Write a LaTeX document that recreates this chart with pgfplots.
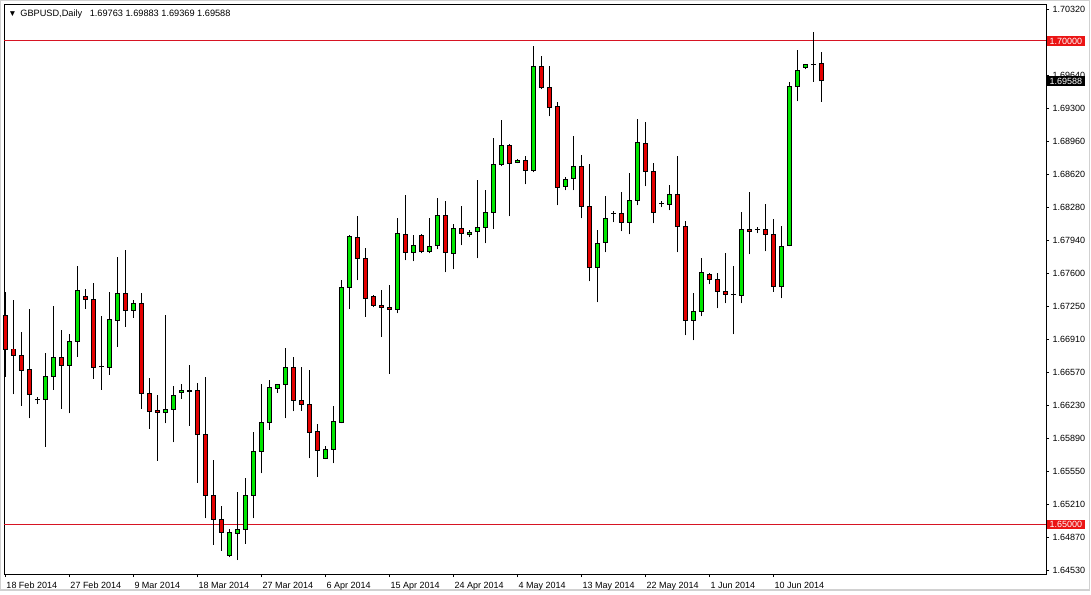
\documentclass[border=0pt]{standalone}
\usepackage{fontspec}
\setmainfont{Liberation Sans}
\usepackage{pgfplots}
\pgfplotsset{compat=1.18}
\usepackage{pgfplotstable}
\definecolor{bullgreen}{RGB}{0,230,0}
\definecolor{bearred}{RGB}{228,0,0}
\definecolor{lvlred}{RGB}{215,20,35}
\definecolor{boxred}{RGB}{235,20,20}

\pgfplotstableread{
i O H L C
0 1.67166 1.67407 1.66529 1.66812
1 1.66815 1.67322 1.66347 1.66750
2 1.66750 1.66991 1.66229 1.66595
3 1.66598 1.67225 1.66098 1.66347
4 1.66288 1.66322 1.66246 1.66290
5 1.66295 1.66770 1.65805 1.66533
6 1.66533 1.67259 1.66391 1.66729
7 1.66729 1.67011 1.66198 1.66646
8 1.66646 1.66967 1.66150 1.66895
9 1.66895 1.67676 1.66735 1.67422
10 1.67360 1.67432 1.67232 1.67329
11 1.67329 1.67494 1.66508 1.66626
12 1.66629 1.67156 1.66391 1.66632
13 1.66626 1.67401 1.66549 1.67122
14 1.67112 1.67769 1.66839 1.67391
15 1.67391 1.67838 1.67045 1.67215
16 1.67215 1.67322 1.67138 1.67290
17 1.67290 1.67394 1.66195 1.66357
18 1.66357 1.66512 1.65990 1.66171
19 1.66181 1.66339 1.65660 1.66161
20 1.66161 1.67166 1.66047 1.66192
21 1.66192 1.66432 1.65850 1.66336
22 1.66367 1.66453 1.66301 1.66388
23 1.66384 1.66650 1.66022 1.66380
24 1.66381 1.66460 1.65433 1.65933
25 1.65933 1.66525 1.65065 1.65302
26 1.65302 1.65667 1.64789 1.65054
27 1.65054 1.65192 1.64730 1.64920
28 1.64682 1.64951 1.64661 1.64913
29 1.64909 1.65340 1.64633 1.64951
30 1.64951 1.65481 1.64799 1.65305
31 1.65302 1.65954 1.65065 1.65757
32 1.65757 1.66453 1.65530 1.66057
33 1.66057 1.66494 1.65978 1.66419
34 1.66409 1.66455 1.66363 1.66450
35 1.66450 1.66822 1.66098 1.66626
36 1.66626 1.66732 1.66171 1.66285
37 1.66285 1.66629 1.66174 1.66243
38 1.66243 1.66595 1.65685 1.65954
39 1.65964 1.66036 1.65495 1.65768
40 1.65685 1.65812 1.65675 1.65778
41 1.65778 1.66223 1.65633 1.66067
42 1.66057 1.67525 1.66047 1.67453
43 1.67453 1.67990 1.67225 1.67980
44 1.67970 1.68193 1.67525 1.67753
45 1.67753 1.67856 1.67149 1.67339
46 1.67360 1.67370 1.67246 1.67267
47 1.67267 1.67422 1.66942 1.67246
48 1.67246 1.67474 1.66560 1.67225
49 1.67225 1.68166 1.67184 1.68011
50 1.68001 1.68404 1.67732 1.67815
51 1.67815 1.67990 1.67722 1.67887
52 1.67990 1.68001 1.67804 1.67821
53 1.67821 1.68166 1.67804 1.67877
54 1.67887 1.68373 1.67846 1.68197
55 1.68197 1.68342 1.67608 1.67815
56 1.67804 1.68104 1.67639 1.68063
57 1.68063 1.68290 1.67887 1.68011
58 1.68001 1.68042 1.67970 1.68022
59 1.68032 1.68559 1.67753 1.68073
60 1.68073 1.68459 1.67908 1.68228
61 1.68228 1.68993 1.68053 1.68725
62 1.68725 1.69179 1.68704 1.68921
63 1.68921 1.68931 1.68187 1.68735
64 1.68745 1.68776 1.68735 1.68766
65 1.68766 1.68807 1.68518 1.68662
66 1.68662 1.69948 1.68642 1.69738
67 1.69738 1.69841 1.69500 1.69521
68 1.69521 1.69738 1.69221 1.69314
69 1.69324 1.69366 1.68301 1.68487
70 1.68497 1.68590 1.68456 1.68569
71 1.68580 1.69014 1.68456 1.68704
72 1.68704 1.68818 1.68166 1.68290
73 1.68290 1.68725 1.67515 1.67660
74 1.67660 1.68042 1.67298 1.67908
75 1.67918 1.68394 1.67815 1.68166
76 1.68218 1.68239 1.68125 1.68214
77 1.68218 1.68435 1.68032 1.68125
78 1.68125 1.68631 1.68001 1.68352
79 1.68352 1.69190 1.68301 1.68952
80 1.68942 1.69159 1.68497 1.68652
81 1.68652 1.68735 1.68115 1.68228
82 1.68317 1.68342 1.68280 1.68320
83 1.68311 1.68507 1.68249 1.68414
84 1.68414 1.68807 1.67815 1.68084
85 1.68084 1.68135 1.66957 1.67112
86 1.67112 1.67391 1.66905 1.67205
87 1.67205 1.67753 1.67153 1.67608
88 1.67587 1.67597 1.67484 1.67536
89 1.67536 1.67598 1.67236 1.67412
90 1.67412 1.67804 1.67287 1.67381
91 1.67381 1.67670 1.66967 1.67377
92 1.67370 1.68228 1.67287 1.68053
93 1.68053 1.68435 1.67794 1.68032
94 1.68053 1.68079 1.68011 1.68049
95 1.68053 1.68311 1.67825 1.68001
96 1.68001 1.68156 1.67407 1.67459
97 1.67459 1.68084 1.67339 1.67877
98 1.67887 1.69572 1.67877 1.69531
99 1.69531 1.69903 1.69376 1.69696
100 1.69727 1.69760 1.69707 1.69754
101 1.69754 1.70089 1.69579 1.69758
102 1.69763 1.69883 1.69369 1.69588
}\candles

\pgfplotstableread{
x y
-0.1625 1.70000
130.0875 1.70000
}\levelhi
\pgfplotstableread{
x y
-0.1625 1.65000
130.0875 1.65000
}\levello

\begin{document}
\begin{tikzpicture}
\fill[white] (-2pt,-10pt) rectangle (543.5pt,287pt);
\draw[black!18, line width=0.6pt] (-1.75pt,-8pt) -- (542.75pt,-8pt) -- (542.75pt,286.75pt) -- (-1.75pt,286.75pt) -- cycle;
\begin{axis}[
  at={(0,0)}, anchor=south west,
  scale only axis, width=521pt, height=285pt,
  xmin=-0.1625, xmax=130.0875, ymin=1.644886, ymax=1.703819,
  axis line style={black, line width=0.45pt},
  clip=false,
  xtick={0,8,16,24,32,40,48,56,64,72,80,88,96},
  xticklabels={18 Feb 2014, 27 Feb 2014, 9 Mar 2014, 18 Mar 2014, 27 Mar 2014, 6 Apr 2014, 15 Apr 2014, 24 Apr 2014, 4 May 2014, 13 May 2014, 22 May 2014, 1 Jun 2014, 10 Jun 2014},
  xtick pos=bottom, xticklabel pos=bottom,
  ytick pos=right, yticklabel pos=right,
  ytick={1.64530,1.64871,1.65212,1.65554,1.65895,1.66236,1.66577,1.66918,1.67260,1.67601,1.67942,1.68283,1.68624,1.68965,1.69307,1.69648,1.69989,1.70330},
  yticklabels={1.64530,1.64870,1.65210,1.65550,1.65890,1.66230,1.66570,1.66910,1.67250,1.67600,1.67940,1.68280,1.68620,1.68960,1.69300,1.69640,1.69980,1.70320},
  tick align=outside, major tick length=1.5pt,
  tick style={black, line width=0.35pt},
  tick label style={font=\fontsize{4.5}{5}\selectfont, text=black},
  xticklabel style={anchor=north west, inner sep=0pt, xshift=0.4pt, yshift=-2.2pt},
  yticklabel style={anchor=west, inner sep=0pt, xshift=1.6pt},
  /pgf/number format/assume math mode=true,
]
\addplot[draw=lvlred, line width=0.45pt, mark=none] table[x=x, y=y] {\levelhi};
\addplot[draw=lvlred, line width=0.45pt, mark=none] table[x=x, y=y] {\levello};

% wicks
\addplot[draw=none, mark=none,
  error bars/.cd, y dir=plus, y explicit, error mark=none,
  error bar style={draw=black, line width=0.5pt, line cap=butt}]
  table[x=i, y=L, y error plus expr={\thisrow{H}-\thisrow{L}}] {\candles};
% body outlines
\addplot[draw=none, mark=none,
  error bars/.cd, y dir=plus, y explicit, error mark=none,
  error bar style={draw=black, line width=2.75pt, line cap=butt}]
  table[x=i, y expr={min(\thisrow{O},\thisrow{C})-0.00005}, y error plus expr={abs(\thisrow{C}-\thisrow{O})+0.0001}] {\candles};
% bull bodies
\addplot[draw=none, mark=none, restrict y to domain=1.6:1.8,
  error bars/.cd, y dir=plus, y explicit, error mark=none,
  error bar style={draw=bullgreen, line width=1.75pt, line cap=butt}]
  table[x=i, y expr={ifthenelse(\thisrow{C}>=\thisrow{O}, \thisrow{O}+0.00005, 0)}, y error plus expr={max(\thisrow{C}-\thisrow{O}-0.0001,0)}] {\candles};
% bear bodies
\addplot[draw=none, mark=none, restrict y to domain=1.6:1.8,
  error bars/.cd, y dir=plus, y explicit, error mark=none,
  error bar style={draw=bearred, line width=1.75pt, line cap=butt}]
  table[x=i, y expr={ifthenelse(\thisrow{C}<\thisrow{O}, \thisrow{C}+0.00005, 0)}, y error plus expr={max(\thisrow{O}-\thisrow{C}-0.0001,0)}] {\candles};

\node[fill=boxred, text=white, anchor=west, inner xsep=1.2pt, inner ysep=0.75pt, text height=3.25pt, text depth=0pt, xshift=0.4pt, font=\fontsize{4.5}{5}\selectfont] at (axis cs:130.0875,1.70000) {1.70000};
\node[fill=boxred, text=white, anchor=west, inner xsep=1.2pt, inner ysep=0.75pt, text height=3.25pt, text depth=0pt, xshift=0.4pt, font=\fontsize{4.5}{5}\selectfont] at (axis cs:130.0875,1.65000) {1.65000};
\node[fill=black, text=white, anchor=west, inner xsep=1.2pt, inner ysep=0.75pt, text height=3.25pt, text depth=0pt, xshift=0.4pt, font=\fontsize{4.5}{5}\selectfont] at (axis cs:130.0875,1.69588) {1.69588};
\node[anchor=west, inner sep=0pt, font=\fontsize{4.6}{5}\selectfont] at ([xshift=8pt,yshift=-5pt]rel axis cs:0,1) {GBPUSD,Daily\hspace{2.5pt} 1.69763 1.69883 1.69369 1.69588};
\node[anchor=center, inner sep=0pt, font=\fontsize{4.2}{4.2}\selectfont] at ([xshift=4.3pt,yshift=-5pt]rel axis cs:0,1) {▼};
\end{axis}
\pgfresetboundingbox
\useasboundingbox (-2pt,-10pt) rectangle (543.5pt,287pt);
\end{tikzpicture}
\end{document}
